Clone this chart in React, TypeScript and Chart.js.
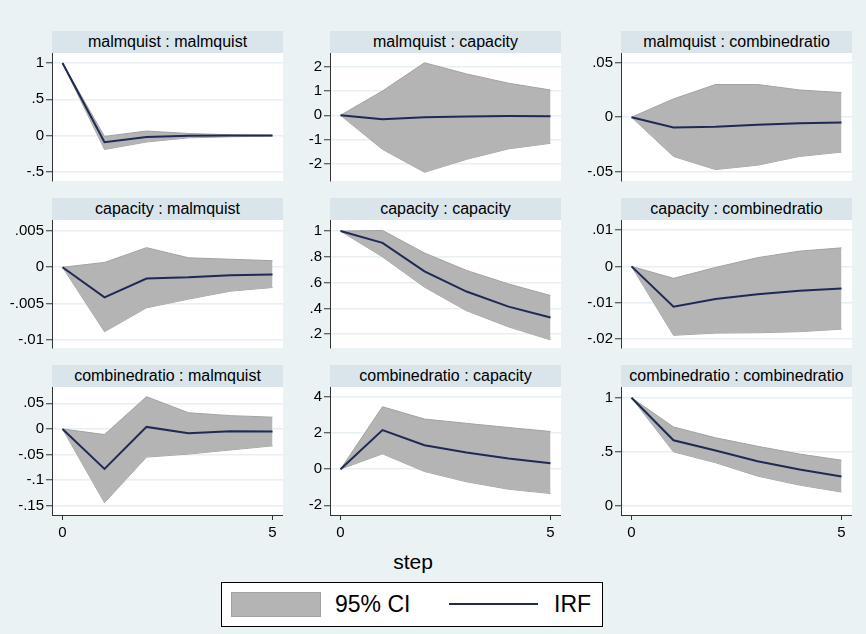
import React, { useEffect, useRef } from "react";
import { Chart, registerables } from "chart.js";

Chart.register(...registerables);

// ---------- data ----------
const steps = [0, 1, 2, 3, 4, 5];
const stepTicks = [0, 5];
const stepLabel = "step";
const legendLabels = ["95% CI", "IRF"];

// malmquist : malmquist
const mmIrf = [1, -0.09, -0.02, 0.0, 0.002, 0.001];
const mmLo = [1, -0.19, -0.087, -0.03, -0.015, -0.006];
const mmHi = [1, -0.01, 0.064, 0.03, 0.012, 0.006];
const mmTicks = [-0.5, 0, 0.5, 1];

// malmquist : capacity
const mcIrf = [0, -0.16, -0.08, -0.05, -0.03, -0.04];
const mcLo = [0, -1.4, -2.34, -1.81, -1.38, -1.15];
const mcHi = [0, 1.0, 2.16, 1.7, 1.32, 1.04];
const mcTicks = [-2, -1, 0, 1, 2];

// malmquist : combinedratio
const mrIrf = [0, -0.0095, -0.0088, -0.007, -0.0055, -0.0049];
const mrLo = [0, -0.036, -0.048, -0.044, -0.036, -0.032];
const mrHi = [0, 0.0168, 0.03, 0.03, 0.025, 0.0226];
const mrTicks = [-0.05, 0, 0.05];

// capacity : malmquist
const cmIrf = [0, -0.00415, -0.00156, -0.0014, -0.0011, -0.001];
const cmLo = [0, -0.0089, -0.0056, -0.0044, -0.0033, -0.0028];
const cmHi = [0, 0.00066, 0.0027, 0.0013, 0.0011, 0.0009];
const cmTicks = [-0.01, -0.005, 0, 0.005];

// capacity : capacity
const ccIrf = [1, 0.909, 0.687, 0.531, 0.414, 0.33];
const ccLo = [1, 0.8, 0.565, 0.382, 0.257, 0.156];
const ccHi = [1, 1.005, 0.83, 0.695, 0.59, 0.5];
const ccTicks = [0.2, 0.4, 0.6, 0.8, 1];

// capacity : combinedratio
const crIrf = [0, -0.0111, -0.009, -0.0077, -0.0067, -0.0061];
const crLo = [0, -0.019, -0.0184, -0.0183, -0.018, -0.0173];
const crHi = [0, -0.0033, -0.0003, 0.0024, 0.0042, 0.0051];
const crTicks = [-0.02, -0.01, 0, 0.01];

// combinedratio : malmquist
const rmIrf = [0, -0.078, 0.004, -0.0086, -0.0046, -0.005];
const rmLo = [0, -0.144, -0.055, -0.049, -0.041, -0.033];
const rmHi = [0, -0.011, 0.063, 0.0316, 0.026, 0.023];
const rmTicks = [-0.15, -0.1, -0.05, 0, 0.05];

// combinedratio : capacity
const rcIrf = [0, 2.17, 1.33, 0.93, 0.59, 0.33];
const rcLo = [0, 0.85, -0.13, -0.7, -1.11, -1.35];
const rcHi = [0, 3.46, 2.78, 2.54, 2.31, 2.09];
const rcTicks = [-2, 0, 2, 4];

// combinedratio : combinedratio
const rrIrf = [1, 0.607, 0.512, 0.414, 0.337, 0.273];
const rrLo = [1, 0.5, 0.4, 0.276, 0.193, 0.129];
const rrHi = [1, 0.73, 0.63, 0.552, 0.48, 0.423];
const rrTicks = [0, 0.5, 1];

// ---------- style ----------
const FONT = '"Liberation Sans", Arial, Helvetica, sans-serif';
const BG = "rgb(234,242,243)";
const STRIP = "rgb(217,229,235)";
const GRID = "rgb(232,239,242)";
const BAND = "rgb(180,180,180)";
const BAND_EDGE = "rgb(162,162,162)";
const NAVY = "rgb(30,42,85)";
const AXIS = "#333";

const PLOT_W = 231;
const PLOT_H = 128;
const STRIP_H = 22;
const YW = 52;
const PAD = 8;
const XH = 30;
const colLeft = [52, 330, 621];
const rowTop = [31, 198, 365];

type PanelCfg = {
  title: string;
  irf: number[];
  lo: number[];
  hi: number[];
  ticks: number[];
  min: number;
  max: number;
};

const panels: PanelCfg[] = [
  { title: "malmquist : malmquist", irf: mmIrf, lo: mmLo, hi: mmHi, ticks: mmTicks, min: -0.624, max: 1.138 },
  { title: "malmquist : capacity", irf: mcIrf, lo: mcLo, hi: mcHi, ticks: mcTicks, min: -2.7, max: 2.56 },
  { title: "malmquist : combinedratio", irf: mrIrf, lo: mrLo, hi: mrHi, ticks: mrTicks, min: -0.0585, max: 0.0589 },
  { title: "capacity : malmquist", irf: cmIrf, lo: cmLo, hi: cmHi, ticks: cmTicks, min: -0.01115, max: 0.00652 },
  { title: "capacity : capacity", irf: ccIrf, lo: ccLo, hi: ccHi, ticks: ccTicks, min: 0.093, max: 1.086 },
  { title: "capacity : combinedratio", irf: crIrf, lo: crLo, hi: crHi, ticks: crTicks, min: -0.0225, max: 0.01278 },
  { title: "combinedratio : malmquist", irf: rmIrf, lo: rmLo, hi: rmHi, ticks: rmTicks, min: -0.168, max: 0.0819 },
  { title: "combinedratio : capacity", irf: rcIrf, lo: rcLo, hi: rcHi, ticks: rcTicks, min: -2.54, max: 4.556 },
  { title: "combinedratio : combinedratio", irf: rrIrf, lo: rrLo, hi: rrHi, ticks: rrTicks, min: -0.083, max: 1.099 },
];

function fmt(v: number): string {
  if (v === 0) return "0";
  return String(v).replace(/^(-?)0\./, "$1.");
}

function xy(arr: number[]) {
  return steps.map((s, i) => ({ x: s, y: arr[i] }));
}

const whiteBg = {
  id: "whiteBg",
  beforeDraw(chart: any) {
    const { ctx, chartArea: a } = chart;
    ctx.save();
    ctx.fillStyle = "#ffffff";
    ctx.fillRect(a.left, a.top, a.right - a.left, a.bottom - a.top);
    ctx.restore();
  },
};

function Panel({ cfg, col, row }: { cfg: PanelCfg; col: number; row: number }) {
  const ref = useRef<HTMLCanvasElement | null>(null);
  const bottom = row === 2;
  const w = YW + PLOT_W;
  const h = PAD + PLOT_H + (bottom ? XH : PAD);

  useEffect(() => {
    if (!ref.current) return;
    const chart = new Chart(ref.current, {
      type: "line",
      data: {
        datasets: [
          {
            label: "IRF",
            data: xy(cfg.irf),
            borderColor: NAVY,
            borderWidth: 2,
            pointRadius: 0,
            fill: false,
            tension: 0,
            order: 0,
          },
          {
            label: "CI upper",
            data: xy(cfg.hi),
            borderColor: BAND_EDGE,
            borderWidth: 1,
            backgroundColor: BAND,
            pointRadius: 0,
            fill: "+1",
            tension: 0,
            order: 1,
          },
          {
            label: "CI lower",
            data: xy(cfg.lo),
            borderColor: BAND_EDGE,
            borderWidth: 1,
            backgroundColor: BAND,
            pointRadius: 0,
            fill: false,
            tension: 0,
            order: 2,
          },
        ],
      } as any,
      options: {
        responsive: false,
        maintainAspectRatio: false,
        animation: false,
        layout: { padding: { top: PAD, bottom: bottom ? 0 : PAD, left: 0, right: 0 } },
        plugins: {
          legend: { display: false },
          tooltip: { enabled: false },
          title: { display: false },
        },
        scales: {
          x: {
            type: "linear",
            min: -0.25,
            max: 5.25,
            display: bottom,
            afterBuildTicks: (s: any) => {
              s.ticks = stepTicks.map((v) => ({ value: v }));
            },
            afterFit: (s: any) => {
              s.height = bottom ? XH : 0;
              s.paddingLeft = 0;
              s.paddingRight = 0;
            },
            grid: {
              drawOnChartArea: false,
              drawTicks: true,
              tickLength: 5,
              tickColor: AXIS,
              tickWidth: 1,
            },
            border: { display: true, color: AXIS, width: 1 },
            ticks: {
              font: { family: FONT, size: 15 },
              color: "#000",
              padding: 4,
              maxRotation: 0,
              autoSkip: false,
              callback: (v: any) => fmt(Number(v)),
            },
          },
          y: {
            type: "linear",
            min: cfg.min,
            max: cfg.max,
            afterBuildTicks: (s: any) => {
              s.ticks = cfg.ticks.map((v) => ({ value: v }));
            },
            afterFit: (s: any) => {
              s.width = YW;
              s.paddingTop = 0;
              s.paddingBottom = 0;
            },
            grid: {
              color: GRID,
              lineWidth: 1.5,
              drawTicks: true,
              tickLength: 6,
              tickColor: AXIS,
              tickWidth: 1,
            },
            border: { display: true, color: AXIS, width: 1 },
            ticks: {
              font: { family: FONT, size: 15 },
              color: "#000",
              padding: 2,
              autoSkip: false,
              callback: (v: any) => fmt(Number(v)),
            },
          },
        },
      } as any,
      plugins: [whiteBg],
    });
    return () => chart.destroy();
  }, []);

  const left = colLeft[col];
  const top = rowTop[row];
  return (
    <>
      <canvas
        ref={ref}
        width={w}
        height={h}
        style={{
          position: "absolute",
          left: left - YW,
          top: top + STRIP_H - PAD,
          width: w,
          height: h,
        }}
      />
      <div
        style={{
          position: "absolute",
          left,
          top,
          width: PLOT_W,
          height: STRIP_H,
          background: STRIP,
          fontFamily: FONT,
          fontSize: 16,
          lineHeight: STRIP_H + "px",
          textAlign: "center",
          color: "#000",
          whiteSpace: "nowrap",
        }}
      >
        {cfg.title}
      </div>
    </>
  );
}

export default function App() {
  return (
    <div
      style={{
        position: "absolute",
        left: 0,
        top: 0,
        width: 866,
        height: 634,
        background: BG,
        overflow: "hidden",
        fontFamily: FONT,
      }}
    >
      {panels.map((p, i) => (
        <Panel key={i} cfg={p} col={i % 3} row={Math.floor(i / 3)} />
      ))}
      <div
        style={{
          position: "absolute",
          left: 363,
          top: 549,
          width: 100,
          textAlign: "center",
          fontSize: 21,
          lineHeight: "26px",
          color: "#000",
        }}
      >
        {stepLabel}
      </div>
      <div
        style={{
          position: "absolute",
          left: 221,
          top: 582,
          width: 382,
          height: 45,
          boxSizing: "border-box",
          border: "1.5px solid #000",
          background: "#fff",
        }}
      />
      <div
        style={{
          position: "absolute",
          left: 231,
          top: 592,
          width: 90,
          height: 25,
          boxSizing: "border-box",
          background: BAND,
          border: "1px solid " + BAND_EDGE,
        }}
      />
      <div
        style={{
          position: "absolute",
          left: 335,
          top: 591,
          fontSize: 23,
          lineHeight: "26px",
          color: "#000",
          whiteSpace: "nowrap",
        }}
      >
        {legendLabels[0]}
      </div>
      <div
        style={{
          position: "absolute",
          left: 449,
          top: 603,
          width: 89,
          height: 2,
          background: NAVY,
        }}
      />
      <div
        style={{
          position: "absolute",
          left: 554,
          top: 591,
          fontSize: 23,
          lineHeight: "26px",
          color: "#000",
          whiteSpace: "nowrap",
        }}
      >
        {legendLabels[1]}
      </div>
    </div>
  );
}
